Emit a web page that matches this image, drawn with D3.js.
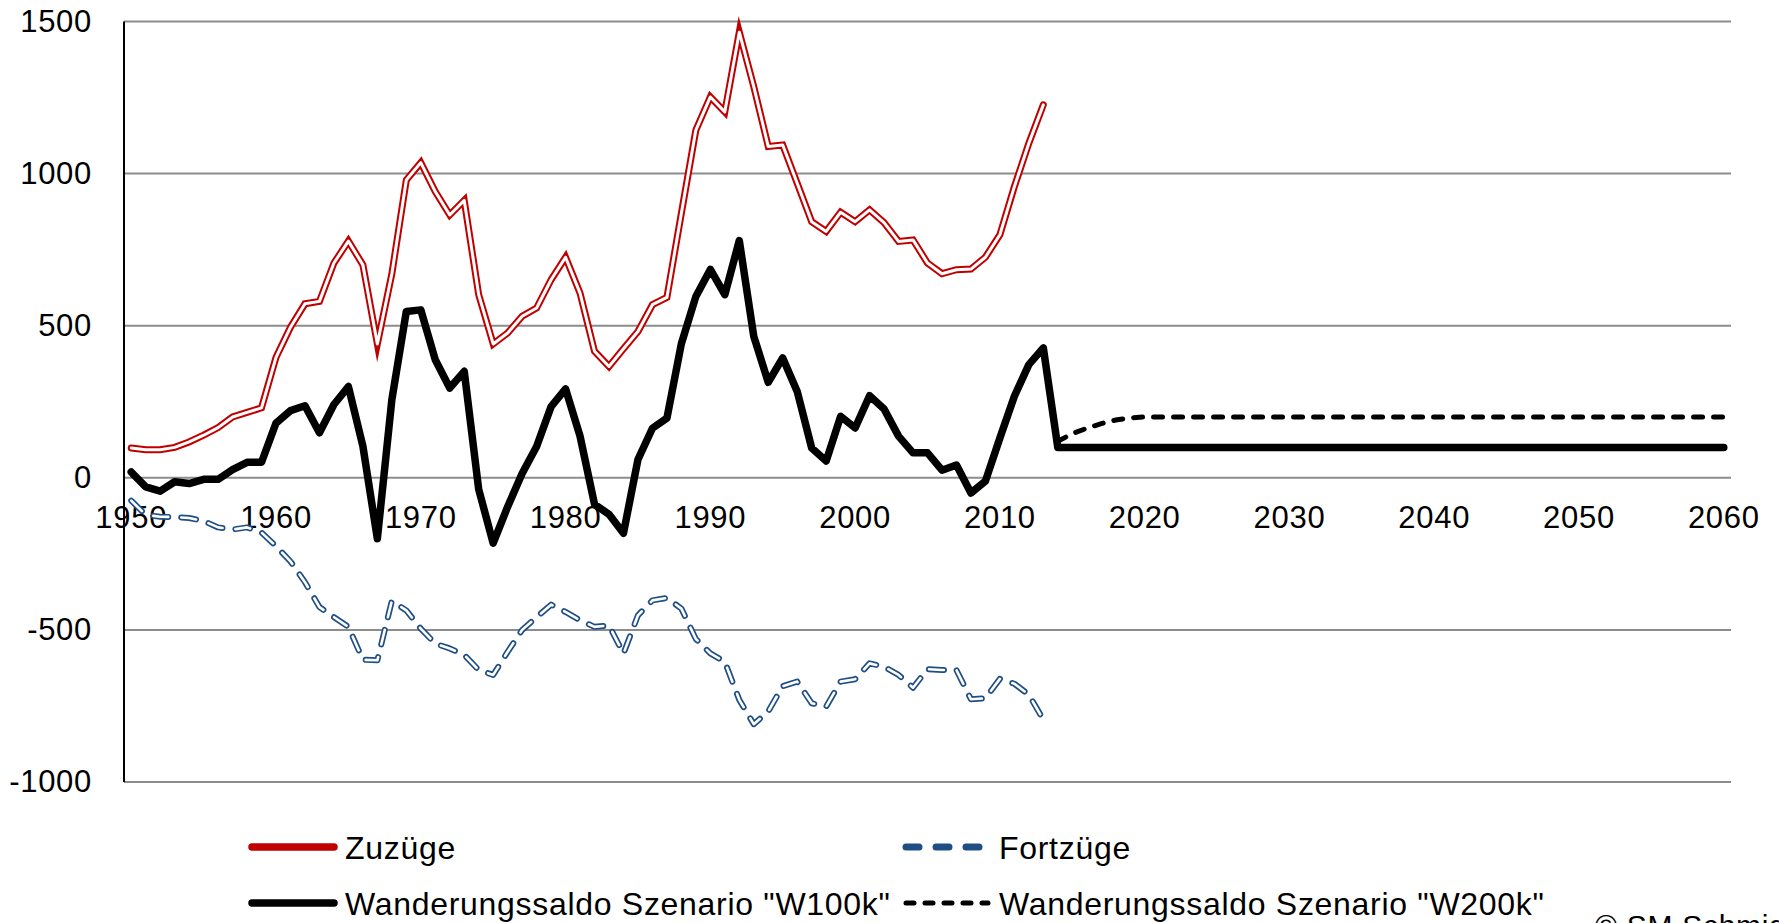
<!DOCTYPE html>
<html>
<head>
<meta charset="utf-8">
<script src="https://cdn.jsdelivr.net/npm/d3@7"></script>
<style>
  body { margin: 0; background: #fff; }
  svg { display: block; font-family: "Liberation Sans", Arial, sans-serif; }
</style>
</head>
<body>
<script>
// categories (one per year, 1950-2060)
const years = d3.range(1950, 2061);
const histYears = d3.range(1950, 2014);
const projYears = d3.range(2014, 2061);

const xTickLabels = ["1950", "1960", "1970", "1980", "1990", "2000", "2010", "2020", "2030", "2040", "2050", "2060"];
const yTickValues = [-1000, -500, 0, 500, 1000, 1500];
const yTickLabels = ["-1000", "-500", "0", "500", "1000", "1500"];

// thousands of persons, 1950-2013
const zuzuege = [
  98, 92, 92, 100, 118, 140, 165, 200, 215, 230,
  396, 495, 572, 580, 706, 778, 700, 440, 670, 979,
  1036, 941, 864, 912, 602, 440, 476, 531, 558, 651,
  725, 607, 416, 366, 424, 481, 569, 593, 870, 1143,
  1252, 1203, 1465, 1286, 1089, 1094, 968, 842, 810, 873,
  842, 881, 839, 777, 782, 706, 671, 684, 686, 725,
  799, 957, 1100, 1226
];
const fortzuege = [
  -75, -122, -128, -129, -132, -142, -163, -170, -163, -180,
  -225, -275, -343, -425, -458, -490, -598, -600, -405, -436,
  -496, -545, -561, -582, -632, -648, -572, -500, -458, -417,
  -441, -468, -490, -485, -578, -452, -403, -395, -430, -530,
  -577, -605, -730, -810, -768, -685, -670, -741, -752, -670,
  -662, -610, -621, -648, -690, -629, -632, -632, -728, -725,
  -661, -677, -713, -795
];
const saldo = [
  19, -30, -44, -13, -19, -5, -5, 27, 51, 51,
  180, 221, 237, 148, 241, 300, 104, -200, 256, 547,
  552, 388, 295, 350, -38, -215, -95, 14, 103, 234,
  292, 137, -87, -120, -182, 60, 163, 196, 441, 596,
  685, 602, 780, 465, 314, 394, 284, 98, 55, 202,
  164, 270, 226, 137, 82, 82, 25, 42, -50, -11,
  131, 268, 372, 427
];
// scenarios 2014-2060
const w100k = [
  100, 100, 100, 100, 100, 100, 100, 100, 100, 100,
  100, 100, 100, 100, 100, 100, 100, 100, 100, 100,
  100, 100, 100, 100, 100, 100, 100, 100, 100, 100,
  100, 100, 100, 100, 100, 100, 100, 100, 100, 100,
  100, 100, 100, 100, 100, 100, 100
];
const w200k = [
  120, 145, 163, 178, 190, 197, 200, 200, 200, 200,
  200, 200, 200, 200, 200, 200, 200, 200, 200, 200,
  200, 200, 200, 200, 200, 200, 200, 200, 200, 200,
  200, 200, 200, 200, 200, 200, 200, 200, 200, 200,
  200, 200, 200, 200, 200, 200, 200
];

const seriesNames = ["Zuzüge", "Fortzüge", "Wanderungssaldo Szenario \"W100k\"", "Wanderungssaldo Szenario \"W200k\""];

const width = 1779;
const height = 923;
const plotLeft = 124, plotRight = 1731, plotTop = 21.5, plotBottom = 782;
const red = "#c00000";
const blue = "#1f4e85";
const gridColor = "#8c8c8c";

const svg = d3.select("body").append("svg")
  .attr("width", width)
  .attr("height", height);

const x = d3.scaleBand().domain(years).range([plotLeft, plotRight]).paddingInner(0).paddingOuter(0);
const xc = yr => x(yr) + x.bandwidth() / 2;
const y = d3.scaleLinear().domain([-1000, 1500]).range([plotBottom, plotTop]);

// gridlines
svg.append("g")
  .selectAll("line")
  .data(yTickValues)
  .join("line")
  .attr("x1", plotLeft).attr("x2", plotRight)
  .attr("y1", d => y(d)).attr("y2", d => y(d))
  .attr("stroke", gridColor)
  .attr("stroke-width", 2);

// value axis
const yAxis = svg.append("g")
  .attr("transform", `translate(${plotLeft},0)`)
  .call(d3.axisLeft(y).tickValues(yTickValues).tickSize(0).tickPadding(32)
    .tickFormat((d, i) => yTickLabels[i]));
yAxis.select(".domain").remove();
yAxis.append("line")
  .attr("x1", 0).attr("x2", 0)
  .attr("y1", plotTop).attr("y2", plotBottom)
  .attr("stroke", "#000").attr("stroke-width", 2);

// category axis, labels sit just under the zero line
const xAxis = svg.append("g")
  .attr("transform", `translate(0,${y(0)})`)
  .call(d3.axisBottom(x).tickValues(xTickLabels.map(Number)).tickSize(0).tickPadding(28)
    .tickFormat((d, i) => xTickLabels[i]));
xAxis.select(".domain").remove();

svg.selectAll(".tick text")
  .attr("font-family", "Liberation Sans, Arial, sans-serif")
  .attr("font-size", 31)
  .attr("letter-spacing", 0.7)
  .attr("fill", "#000");

const line = d3.line()
  .x(d => xc(d.year))
  .y(d => y(d.value));

const zip = (ys, vs) => ys.map((yr, i) => ({ year: yr, value: vs[i] }));

const plot = svg.append("g");

// Zuzüge: double line (red rim, white core)
plot.append("path")
  .datum(zip(histYears, zuzuege))
  .attr("d", line)
  .attr("fill", "none")
  .attr("stroke", red)
  .attr("stroke-width", 7)
  .attr("stroke-linejoin", "miter")
  .attr("stroke-miterlimit", 8)
  .attr("stroke-linecap", "round");
plot.append("path")
  .datum(zip(histYears, zuzuege))
  .attr("d", line)
  .attr("fill", "none")
  .attr("stroke", "#fff")
  .attr("stroke-width", 3)
  .attr("stroke-linejoin", "round")
  .attr("stroke-linecap", "round");

// Fortzüge: outlined dashes
plot.append("path")
  .datum(zip(histYears, fortzuege))
  .attr("d", line)
  .attr("fill", "none")
  .attr("stroke", blue)
  .attr("stroke-width", 6)
  .attr("stroke-dasharray", "15 13")
  .attr("stroke-linejoin", "round")
  .attr("stroke-linecap", "round");
plot.append("path")
  .datum(zip(histYears, fortzuege))
  .attr("d", line)
  .attr("fill", "none")
  .attr("stroke", "#fff")
  .attr("stroke-width", 2.6)
  .attr("stroke-dasharray", "15 13")
  .attr("stroke-linejoin", "round")
  .attr("stroke-linecap", "round");

// W200k projection
plot.append("path")
  .datum(zip(projYears, w200k))
  .attr("d", line)
  .attr("fill", "none")
  .attr("stroke", "#000")
  .attr("stroke-width", 5)
  .attr("stroke-dasharray", "9 11")
  .attr("stroke-linecap", "round");

// Saldo + W100k projection
plot.append("path")
  .datum(zip(histYears, saldo).concat(zip(projYears, w100k)))
  .attr("d", line)
  .attr("fill", "none")
  .attr("stroke", "#000")
  .attr("stroke-width", 7.5)
  .attr("stroke-linejoin", "round")
  .attr("stroke-linecap", "round");

// legend
const legendItems = [
  { name: seriesNames[0], lx: 252, ty: 859, ly: 847, stroke: red, w: 7.5, dash: null },
  { name: seriesNames[1], lx: 906, ty: 859, ly: 847, stroke: blue, w: 7, dash: "13 17" },
  { name: seriesNames[2], lx: 252, ty: 915, ly: 903, stroke: "#000", w: 7.5, dash: null },
  { name: seriesNames[3], lx: 906, ty: 915, ly: 903, stroke: "#000", w: 5, dash: "8 11" }
];
const legend = svg.append("g");
const items = legend.selectAll("g").data(legendItems).join("g");
items.append("line")
  .attr("x1", d => d.lx).attr("x2", d => d.lx + 82)
  .attr("y1", d => d.ly).attr("y2", d => d.ly)
  .attr("stroke", d => d.stroke)
  .attr("stroke-width", d => d.w)
  .attr("stroke-linecap", "round")
  .attr("stroke-dasharray", d => d.dash);
items.append("text")
  .attr("x", d => d.lx + 93)
  .attr("y", d => d.ty)
  .attr("font-size", 32)
  .attr("letter-spacing", 0.7)
  .text(d => d.name);

svg.append("text")
  .attr("x", 1595)
  .attr("y", 936)
  .attr("font-size", 30)
  .attr("letter-spacing", 0.7)
  .text("© SM Schmidt");
</script>
</body>
</html>
